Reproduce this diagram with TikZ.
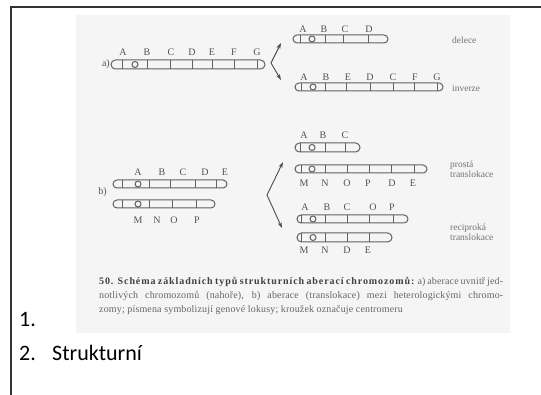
\documentclass[tikz,border=0pt]{standalone}
\usepackage{fontspec}
\setmainfont{Liberation Serif}
\newfontfamily\slidefont{Carlito}
\newfontfamily\capfont[LetterSpace=1.5]{Liberation Serif}
\usetikzlibrary{arrows.meta}

% one chromosome: #1 left x, #2 right x, #3 top y, #4 bottom y,
% #5 centromere x, #6 list of divider x positions
\newcommand\chromo[6]{%
  \pgfmathsetmacro\chrrad{(#4-#3)/2}%
  \draw[chrline, rounded corners=\chrrad pt] (#1,#3) rectangle (#2,#4);
  \foreach \dx in {#6} {\draw[chrline] (\dx,#3) -- (\dx,#4);}
  \draw[chrline] (#5,{(#3+#4)/2}) circle[radius=3];
}

\begin{document}
\begin{tikzpicture}[x=1pt,y=-1pt,
  chrline/.style={draw=black!62, line width=1pt},
  gene/.style={text=black!68, inner sep=0pt, font=\fontsize{10}{12}\selectfont},
  tag/.style={text=black!55, inner sep=0pt, anchor=west, align=left,
    font=\fontsize{9.5}{12}\selectfont},
  fork/.style={draw=black!70, line width=0.9pt, -{Stealth[length=6pt,width=4pt]}},
  slide/.style={inner sep=0pt, anchor=base west, font=\slidefont\fontsize{22}{26}\selectfont},
  frameline/.style={draw=black!80, line width=2pt}]

\useasboundingbox (0,0) rectangle (541,395);
\fill[black!4] (76,15) rectangle (510,333);

% slide frame
\draw[frameline] (11,395) -- (11,7) -- (541,7);

% ---- a) chromosome and its two products
\node[gene, anchor=east] (la) at (110,64) {a)};
\chromo{111}{265}{60}{69}{135}{122,147,170,192,212,234,257}
\foreach \g/\x in {A/123,B/147,C/171,D/192,E/212,F/234,G/257}
  \node[gene] (a\g) at (\x,52) {\g};

\coordinate (fa) at (271,63);
\coordinate (fa1) at (281,43);
\coordinate (fa2) at (281,80);
\draw[fork] (fa) -- (fa1);
\draw[fork] (fa) -- (fa2);

% deletion
\chromo{293}{388}{35}{43}{312}{300,325,343,368}
\foreach \g/\x in {A/303,B/324,C/345,D/369}
  \node[gene] (d\g) at (\x,29) {\g};
\node[tag] (tdel) at (452,40) {delece};

% inversion
\chromo{295}{443}{83}{91}{313}{301,325,346,370,393,414,437}
\foreach \g/\x in {A/304,B/326,E/348,D/370,C/393,F/415,G/437}
  \node[gene] (i\g) at (\x,77) {\g};
\node[tag] (tinv) at (452,88) {inverze};

% ---- b) two chromosomes and the translocations
\node[gene, anchor=east] (lb) at (107,192) {b)};
\chromo{113}{227}{180}{188}{138}{122,149,170,195,216}
\foreach \g/\x in {A/138,B/162,C/183,D/205,E/225}
  \node[gene] (b\g) at (\x,172) {\g};
\chromo{113}{215}{200}{208}{138}{122,149,172,196}
\foreach \g/\x in {M/138,N/157,O/174,P/197}
  \node[gene] (m\g) at (\x,220) {\g};

\coordinate (fb) at (267,195);
\coordinate (fb1) at (283,162);
\coordinate (fb2) at (282,228);
\draw[fork] (fb) -- (fb1);
\draw[fork] (fb) -- (fb2);

% simple translocation
\chromo{295}{360}{143}{152}{312}{300,325,345}
\foreach \g/\x in {A/304,B/323,C/345}
  \node[gene] (s\g) at (\x,135) {\g};
\chromo{295}{427}{165}{173}{312}{301,325,347,369,391,414}
\foreach \g/\x in {M/304,N/325,O/347,P/368,D/392,E/413}
  \node[gene] (t\g) at (\x,183) {\g};
\node[tag] (tpro) at (450,169) {prostá\\[-2pt]translokace};

% reciprocal translocation
\chromo{297}{408}{215}{223}{313}{301,325,347,369,393}
\foreach \g/\x in {A/305,B/327,C/347,O/373,P/392}
  \node[gene] (r\g) at (\x,207) {\g};
\chromo{297}{392}{233}{242}{313}{301,325,347,369}
\foreach \g/\x in {M/304,N/325,D/347,E/368}
  \node[gene] (q\g) at (\x,250) {\g};
\node[tag] (trec) at (450,232) {reciproká\\[-2pt]translokace};

% caption
\node[anchor=north west, inner sep=0pt, text width=404pt, align=justify,
  text=black!60, font=\capfont\fontsize{10}{14}\selectfont] (cap) at (99,277)
  {{\bfseries\addfontfeatures{LetterSpace=9}\color{black!75}50. Schéma základních typů strukturních aberací chromozomů:} a)~aberace uvnitř jed-\linebreak notlivých chromozomů (nahoře), b) aberace (translokace) mezi heterologickými chromo-\linebreak zomy; písmena symbolizují genové lokusy; kroužek označuje centromeru};

% slide bullets
\node[slide] (n1) at (19,327) {1.};
\node[slide] (n2) at (19,360) {2.};
\node[slide] (st) at (52,360) {Strukturní};

\end{tikzpicture}
\end{document}
